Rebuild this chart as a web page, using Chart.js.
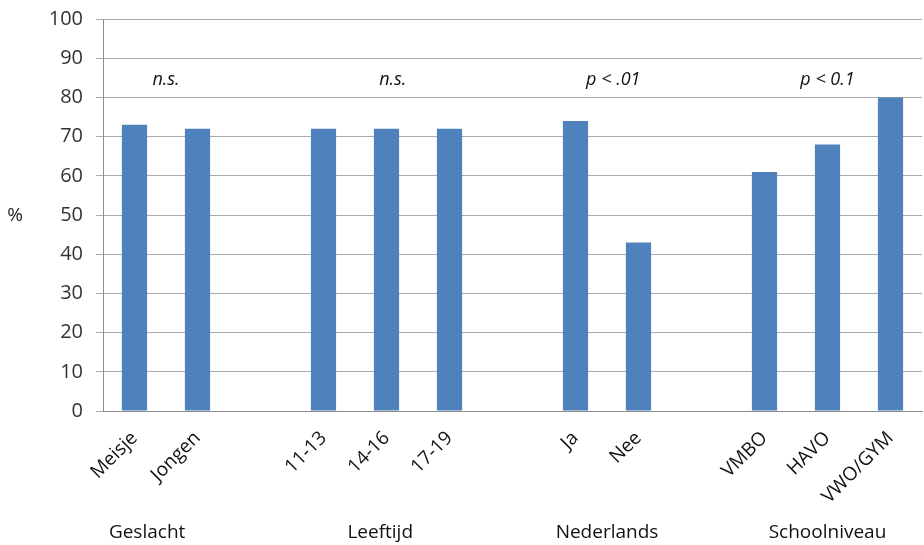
<!DOCTYPE html>
<html>
<head>
	<title>Percentage per groep</title>
	<script src="https://cdn.jsdelivr.net/npm/chart.js@4.4.1/dist/chart.umd.min.js"></script>
	<style>
		html, body { margin: 0; padding: 0; background: #fff; }
		#wrap { width: 924px; height: 545px; }
	</style>
</head>
<body>
	<div id="wrap"><canvas id="chart1"></canvas></div>
	<script type="text/javascript">
		// categories, empty strings are the gaps between groups
		var labels = ['Meisje', 'Jongen', '', '11-13', '14-16', '17-19', '', 'Ja', 'Nee', '', 'VMBO', 'HAVO', 'VWO/GYM'];
		var percData = [73, 72, null, 72, 72, 72, null, 74, 43, null, 61, 68, 80];

		// group captions under the axis and significance notes above the bars
		var groupNames = ['Geslacht', 'Leeftijd', 'Nederlands', 'Schoolniveau'];
		var groupPos = [0.2, 3.9, 7.5, 11];
		var sigLabels = ['n.s.', 'n.s.', 'p < .01', 'p < 0.1'];
		var sigPos = [0.5, 4.1, 7.6, 11];

		var yTicks = [0, 10, 20, 30, 40, 50, 60, 70, 80, 90, 100];

		var FONT = '"Open Sans", Lato, sans-serif';

		var extraText = {
			id: 'extraText',
			afterDraw: function(chart){
				var ctx = chart.ctx;
				var xs = chart.scales.x;
				var ys = chart.scales.y;
				ctx.save();
				ctx.textAlign = 'center';
				ctx.textBaseline = 'middle';
				ctx.fillStyle = '#111';
				for (var i = 0; i < groupNames.length; i++) {
					ctx.font = '19px ' + FONT;
					ctx.fillText(groupNames[i], xs.getPixelForValue(groupPos[i]), 533);
					ctx.font = 'italic 18px ' + FONT;
					ctx.fillText(sigLabels[i], xs.getPixelForValue(sigPos[i]), ys.getPixelForValue(84.4));
				}
				ctx.font = '19px ' + FONT;
				ctx.fillStyle = '#222';
				ctx.fillText('%', 15, 216);
				ctx.restore();
			}
		};

		var ctx1 = document.getElementById('chart1');
		var chart1 = new Chart(ctx1, {
			type: 'bar',
			data: {
				labels: labels,
				datasets: [{
					label: '%',
					backgroundColor: '#4f81bd',
					borderWidth: 0,
					barPercentage: 0.4,
					categoryPercentage: 1,
					data: percData
				}]
			},
			options: {
				responsive: true,
				maintainAspectRatio: false,
				animation: false,
				layout: { padding: { top: 19, right: 2, left: 0, bottom: 0 } },
				plugins: {
					legend: { display: false },
					tooltip: { enabled: false }
				},
				scales: {
					x: {
						grid: { display: false },
						border: { display: true, color: '#8c8c8c' },
						ticks: {
							color: '#111',
							font: { family: FONT, size: 19 },
							minRotation: 45,
							maxRotation: 45,
							autoSkip: false,
							padding: 8
						},
						afterFit: function(scale){
							scale.height = 134;
							scale.paddingLeft = 0;
							scale.paddingRight = 0;
						}
					},
					y: {
						min: 0,
						max: 100,
						afterBuildTicks: function(scale){
							scale.ticks = yTicks.map(function(v){ return { value: v }; });
						},
						grid: { color: '#aaaaaa', tickLength: 7 },
						border: { display: true, color: '#8c8c8c' },
						ticks: {
							color: '#333',
							font: { family: FONT, size: 20 },
							padding: 13
						},
						afterFit: function(scale){
							scale.width = 103;
							scale.paddingTop = 0;
							scale.paddingBottom = 0;
						}
					}
				}
			},
			plugins: [extraText]
		});
	</script>
</body>
</html>
